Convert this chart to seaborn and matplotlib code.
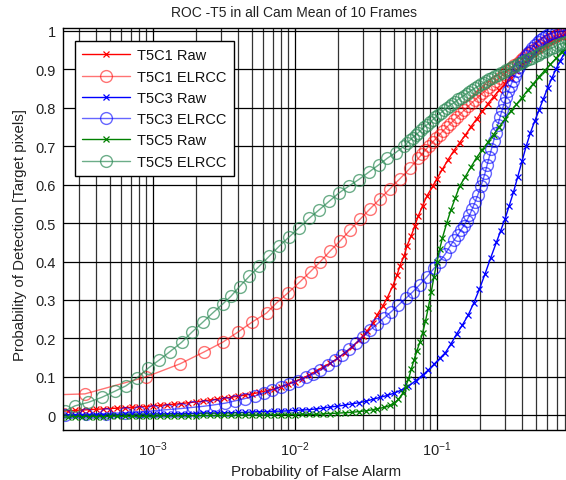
import numpy as np
import matplotlib
matplotlib.use("Agg")
import matplotlib.pyplot as plt
import seaborn as sns
from matplotlib.ticker import LogLocator, FixedLocator, FuncFormatter, NullFormatter

sns.set_theme(style="white")
plt.rcParams["font.family"] = ["Liberation Sans", "DejaVu Sans"]
plt.rcParams["mathtext.fontset"] = "custom"
plt.rcParams["mathtext.rm"] = "Liberation Sans"
plt.rcParams["mathtext.it"] = "Liberation Sans"

TITLE = "ROC -T5 in all Cam Mean of 10 Frames"
XLABEL = "Probability of False Alarm"
YLABEL = "Probability of Detection [Target pixels]"
LABELS = ["T5C1 Raw", "T5C1 ELRCC", "T5C3 Raw", "T5C3 ELRCC", "T5C5 Raw", "T5C5 ELRCC"]
YTICKS = [0, 0.1, 0.2, 0.3, 0.4, 0.5, 0.6, 0.7, 0.8, 0.9, 1]
YTICK_LABELS = ["0", "0.1", "0.2", "0.3", "0.4", "0.5", "0.6", "0.7", "0.8", "0.9", "1"]

# values: log10(P_FA) and P_D
t5c1_raw_logpfa = [-3.70, -3.65, -3.60, -3.55, -3.50, -3.45, -3.40, -3.35, -3.30, -3.25, -3.20, -3.15,
                   -3.10, -3.05, -3.00, -2.95, -2.90, -2.85, -2.80, -2.75, -2.70, -2.65, -2.60, -2.55,
                   -2.50, -2.45, -2.40, -2.35, -2.30, -2.25, -2.20, -2.15, -2.10, -2.05, -2.00, -1.95,
                   -1.90, -1.85, -1.80, -1.75, -1.70, -1.65, -1.60, -1.55, -1.52, -1.49, -1.45, -1.42,
                   -1.38, -1.35, -1.31, -1.28, -1.26, -1.23, -1.21, -1.18, -1.155, -1.13, -1.10, -1.07,
                   -1.03, -1.00, -0.96, -0.92, -0.88, -0.84, -0.80, -0.76, -0.72, -0.68, -0.64, -0.60,
                   -0.56, -0.52, -0.48, -0.44, -0.40, -0.36, -0.32, -0.28, -0.24, -0.20, -0.16, -0.12, -0.08]
t5c1_raw_pd = [0.010, 0.011, 0.012, 0.013, 0.014, 0.015, 0.016, 0.017, 0.018, 0.019, 0.020, 0.021,
               0.022, 0.023, 0.025, 0.026, 0.028, 0.029, 0.031, 0.033, 0.035, 0.037, 0.040, 0.042,
               0.045, 0.047, 0.050, 0.053, 0.056, 0.060, 0.064, 0.069, 0.074, 0.081, 0.088, 0.096,
               0.105, 0.115, 0.126, 0.136, 0.148, 0.162, 0.177, 0.195, 0.207, 0.220, 0.240, 0.262,
               0.285, 0.305, 0.337, 0.365, 0.389, 0.415, 0.441, 0.467, 0.493, 0.519, 0.545, 0.570,
               0.595, 0.615, 0.640, 0.665, 0.688, 0.708, 0.728, 0.750, 0.770, 0.790, 0.810, 0.828,
               0.846, 0.862, 0.878, 0.895, 0.910, 0.925, 0.938, 0.950, 0.962, 0.972, 0.980, 0.987, 0.993]

t5c1_elrcc_logpfa = [-4.00, -3.48, -3.05, -2.81, -2.64, -2.51, -2.40, -2.30, -2.20, -2.13, -2.05, -1.965,
                     -1.89, -1.82, -1.75, -1.68, -1.61, -1.54, -1.47, -1.40, -1.33, -1.26, -1.19,
                     -1.13, -1.105, -1.08, -1.055, -1.03, -1.005, -0.98, -0.955, -0.93, -0.905, -0.88, -0.855,
                     -0.83, -0.805, -0.78, -0.755, -0.73, -0.705, -0.68, -0.655, -0.63, -0.605, -0.58, -0.555,
                     -0.53, -0.505, -0.48, -0.455, -0.43, -0.41, -0.39, -0.37, -0.35, -0.33, -0.31, -0.29,
                     -0.27, -0.25, -0.23, -0.21, -0.19, -0.17, -0.15, -0.13, -0.11, -0.09, -0.07]
t5c1_elrcc_pd = [0.050, 0.056, 0.100, 0.134, 0.165, 0.190, 0.217, 0.243, 0.266, 0.292, 0.318, 0.347,
                 0.374, 0.400, 0.428, 0.454, 0.482, 0.510, 0.537, 0.563, 0.589, 0.615, 0.642,
                 0.668, 0.679, 0.690, 0.700, 0.710, 0.720, 0.730, 0.740, 0.749, 0.758, 0.767, 0.776,
                 0.785, 0.794, 0.803, 0.812, 0.820, 0.829, 0.837, 0.845, 0.853, 0.862, 0.870, 0.878,
                 0.886, 0.894, 0.902, 0.910, 0.917, 0.924, 0.930, 0.936, 0.942, 0.948, 0.953, 0.958,
                 0.963, 0.968, 0.972, 0.977, 0.981, 0.985, 0.988, 0.991, 0.994, 0.996, 0.998]

t5c3_raw_logpfa = [-3.70, -3.65, -3.60, -3.55, -3.50, -3.45, -3.40, -3.35, -3.30, -3.25, -3.20, -3.15,
                   -3.10, -3.05, -3.00, -2.95, -2.90, -2.85, -2.80, -2.75, -2.70, -2.65, -2.60, -2.55,
                   -2.50, -2.45, -2.40, -2.35, -2.30, -2.25, -2.20, -2.15, -2.10, -2.05, -2.00, -1.95,
                   -1.90, -1.85, -1.80, -1.75, -1.70, -1.65, -1.60, -1.55, -1.50, -1.45, -1.40, -1.35,
                   -1.30, -1.25, -1.20, -1.15, -1.10, -1.06, -1.02, -0.98, -0.94, -0.90, -0.86, -0.82,
                   -0.78, -0.74, -0.70, -0.66, -0.62, -0.58, -0.55, -0.52, -0.49, -0.46, -0.43, -0.40,
                   -0.37, -0.34, -0.31, -0.28, -0.25, -0.22, -0.19, -0.16, -0.13, -0.10, -0.07]
t5c3_raw_pd = [0.000, 0.000, 0.001, 0.001, 0.001, 0.001, 0.002, 0.002, 0.002, 0.002, 0.003, 0.003,
               0.003, 0.003, 0.004, 0.004, 0.004, 0.005, 0.005, 0.005, 0.005, 0.006, 0.006, 0.006,
               0.007, 0.007, 0.008, 0.008, 0.009, 0.010, 0.010, 0.011, 0.011, 0.012, 0.013, 0.014,
               0.015, 0.017, 0.019, 0.022, 0.024, 0.027, 0.030, 0.033, 0.037, 0.042, 0.047, 0.052,
               0.058, 0.066, 0.076, 0.090, 0.105, 0.118, 0.133, 0.148, 0.163, 0.186, 0.212, 0.235,
               0.260, 0.292, 0.328, 0.368, 0.410, 0.450, 0.480, 0.510, 0.545, 0.580, 0.620, 0.660,
               0.700, 0.735, 0.765, 0.793, 0.822, 0.850, 0.876, 0.900, 0.922, 0.942, 0.958]

t5c3_elrcc_logpfa = [-3.62, -3.47, -3.33, -3.20, -3.10, -3.00, -2.90, -2.80, -2.72, -2.64, -2.56, -2.49,
                     -2.42, -2.35, -2.28, -2.22, -2.16, -2.10, -2.04, -1.98, -1.92, -1.87, -1.82, -1.77,
                     -1.72, -1.67, -1.62, -1.57, -1.52, -1.47, -1.42, -1.37, -1.32, -1.27, -1.22, -1.17,
                     -1.12, -1.07, -1.02, -0.98, -0.94, -0.91, -0.88,
                     -0.85, -0.83, -0.81, -0.79, -0.77, -0.75, -0.73, -0.71, -0.69, -0.675, -0.66, -0.645,
                     -0.63, -0.615, -0.60, -0.585, -0.57, -0.555, -0.54, -0.525, -0.51, -0.495, -0.48, -0.465,
                     -0.45, -0.435, -0.42, -0.405, -0.39, -0.375, -0.36, -0.345, -0.33, -0.31, -0.29, -0.27,
                     -0.25, -0.23, -0.21, -0.19, -0.16, -0.13, -0.10, -0.07]
t5c3_elrcc_pd = [0.002, 0.003, 0.005, 0.007, 0.009, 0.012, 0.015, 0.018, 0.021, 0.024, 0.028, 0.032,
                 0.038, 0.044, 0.051, 0.058, 0.066, 0.074, 0.082, 0.090, 0.099, 0.108, 0.118, 0.130,
                 0.143, 0.157, 0.172, 0.188, 0.205, 0.222, 0.238, 0.254, 0.270, 0.287, 0.304, 0.321,
                 0.340, 0.360, 0.382, 0.400, 0.420, 0.438, 0.455,
                 0.470, 0.482, 0.493, 0.505, 0.520, 0.537, 0.555, 0.574, 0.595, 0.612, 0.630, 0.652,
                 0.672, 0.692, 0.713, 0.735, 0.755, 0.775, 0.793, 0.812, 0.828, 0.843, 0.857, 0.870,
                 0.882, 0.894, 0.905, 0.915, 0.924, 0.933, 0.941, 0.948, 0.955, 0.963, 0.970, 0.976,
                 0.982, 0.987, 0.990, 0.993, 0.996, 0.998, 1.000, 1.000]

t5c5_raw_logpfa = [-3.70, -3.65, -3.60, -3.55, -3.50, -3.45, -3.40, -3.35, -3.30, -3.25, -3.20, -3.15,
                   -3.10, -3.05, -3.00, -2.95, -2.90, -2.85, -2.80, -2.75, -2.70, -2.65, -2.60, -2.55,
                   -2.50, -2.45, -2.40, -2.35, -2.30, -2.25, -2.20, -2.15, -2.10, -2.05, -2.00, -1.95,
                   -1.90, -1.85, -1.80, -1.75, -1.70, -1.65, -1.60, -1.55, -1.50, -1.45, -1.42, -1.37,
                   -1.33, -1.30, -1.27, -1.24, -1.22, -1.20, -1.18, -1.16, -1.14, -1.12, -1.10, -1.08,
                   -1.06, -1.04, -1.02, -1.00, -0.98, -0.96, -0.93, -0.90, -0.87, -0.84, -0.80, -0.76,
                   -0.72, -0.68, -0.64, -0.60, -0.56, -0.52, -0.48, -0.44, -0.40, -0.36, -0.32, -0.28,
                   -0.24, -0.20, -0.16, -0.12, -0.08]
t5c5_raw_pd = [-0.004, -0.004, -0.004, -0.003, -0.003, -0.003, -0.003, -0.003, -0.002, -0.002, -0.002, -0.002,
               -0.002, -0.002, -0.002, -0.001, -0.001, -0.001, -0.001, -0.001, -0.001, 0.000, 0.000, 0.000,
               0.000, 0.000, 0.001, 0.001, 0.001, 0.001, 0.001, 0.002, 0.002, 0.002, 0.002, 0.003,
               0.003, 0.003, 0.004, 0.005, 0.006, 0.007, 0.008, 0.010, 0.012, 0.015, 0.017, 0.021,
               0.026, 0.032, 0.042, 0.058, 0.075, 0.094, 0.120, 0.145, 0.168, 0.190, 0.215, 0.245,
               0.280, 0.320, 0.360, 0.398, 0.432, 0.462, 0.500, 0.535, 0.565, 0.595, 0.620, 0.645,
               0.670, 0.690, 0.710, 0.730, 0.750, 0.770, 0.790, 0.808, 0.826, 0.845, 0.862, 0.880,
               0.896, 0.912, 0.928, 0.945, 0.960]

t5c5_elrcc_logpfa = [-3.62, -3.549, -3.456, -3.361, -3.268, -3.19, -3.115, -3.033, -2.956, -2.88, -2.798, -2.727,
                     -2.65, -2.58, -2.51, -2.45, -2.39, -2.32, -2.25, -2.18, -2.11, -2.04, -1.97, -1.90,
                     -1.83, -1.76, -1.69, -1.62, -1.55, -1.48, -1.41, -1.35, -1.29,
                     -1.23, -1.21, -1.19, -1.17, -1.15, -1.13, -1.11, -1.09, -1.07, -1.05, -1.03, -1.01,
                     -0.99, -0.97, -0.95, -0.93, -0.91, -0.89, -0.87, -0.85, -0.83, -0.81, -0.79, -0.77,
                     -0.75, -0.73, -0.71, -0.69, -0.67, -0.65, -0.63, -0.61, -0.59, -0.57, -0.55, -0.53,
                     -0.51, -0.49, -0.47, -0.45, -0.43, -0.41, -0.39, -0.37, -0.35, -0.33, -0.31, -0.29,
                     -0.27, -0.25, -0.23, -0.21, -0.19, -0.17, -0.15, -0.13, -0.11, -0.09, -0.07]
t5c5_elrcc_pd = [0.012, 0.025, 0.034, 0.047, 0.063, 0.077, 0.097, 0.123, 0.144, 0.166, 0.190, 0.216,
                 0.242, 0.266, 0.289, 0.310, 0.335, 0.362, 0.388, 0.414, 0.440, 0.464, 0.488, 0.512,
                 0.534, 0.556, 0.578, 0.596, 0.613, 0.632, 0.651, 0.668, 0.683,
                 0.700, 0.708, 0.715, 0.722, 0.728, 0.735, 0.742, 0.749, 0.755, 0.762, 0.768, 0.775,
                 0.781, 0.787, 0.793, 0.799, 0.805, 0.810, 0.815, 0.821, 0.826, 0.831, 0.836, 0.841,
                 0.846, 0.851, 0.855, 0.860, 0.864, 0.869, 0.873, 0.877, 0.881, 0.885, 0.889, 0.893,
                 0.897, 0.901, 0.905, 0.909, 0.912, 0.916, 0.919, 0.923, 0.926, 0.930, 0.934, 0.937,
                 0.941, 0.944, 0.948, 0.951, 0.955, 0.958, 0.962, 0.965, 0.968, 0.971, 0.974]

RED = "#ff0000"
BLUE = "#0000ff"
GREEN = "#008000"
SEAGREEN = "#2e8b57"

series = [
    (LABELS[0], t5c1_raw_logpfa, t5c1_raw_pd, RED, "x", 1.0),
    (LABELS[1], t5c1_elrcc_logpfa, t5c1_elrcc_pd, RED, "o", 0.55),
    (LABELS[2], t5c3_raw_logpfa, t5c3_raw_pd, BLUE, "x", 1.0),
    (LABELS[3], t5c3_elrcc_logpfa, t5c3_elrcc_pd, BLUE, "o", 0.6),
    (LABELS[4], t5c5_raw_logpfa, t5c5_raw_pd, GREEN, "x", 1.0),
    (LABELS[5], t5c5_elrcc_logpfa, t5c5_elrcc_pd, SEAGREEN, "o", 0.7),
]

fig = plt.figure(figsize=(5.66, 4.81), dpi=100)
ax = fig.add_axes([0.1108, 0.1046, 0.9117, 0.8361])
ax.set_xscale("log")

for label, lx, y, color, marker, alpha in series:
    x = 10.0 ** np.asarray(lx)
    if marker == "o":
        sns.lineplot(x=x, y=y, ax=ax, estimator=None, sort=False, color=color, lw=1.0,
                     marker="o", markersize=8.5, mfc="none", mec=color, mew=1.0,
                     alpha=alpha, label=label)
    else:
        sns.lineplot(x=x, y=y, ax=ax, estimator=None, sort=False, color=color, lw=1.0,
                     marker="x", markersize=4.8, mec=color, mew=0.9,
                     alpha=alpha, label=label)

ax.set_xlim(10 ** -3.636, 1.0)
ax.set_ylim(-0.037, 1.008)


def decade_label(v, _pos):
    if v >= 0.999:
        return ""
    return r"$10^{%d}$" % int(round(np.log10(v)))


ax.xaxis.set_major_locator(LogLocator(base=10, numticks=20))
ax.xaxis.set_major_formatter(FuncFormatter(decade_label))
ax.xaxis.set_minor_locator(LogLocator(base=10, subs=np.arange(2, 10), numticks=50))
ax.xaxis.set_minor_formatter(NullFormatter())
ax.yaxis.set_major_locator(FixedLocator(YTICKS))
ax.set_yticklabels(YTICK_LABELS)

ax.grid(which="major", axis="both", color="black", lw=0.9, ls="-")
ax.grid(which="minor", axis="x", color="0.2", lw=0.9, ls="-")
ax.set_axisbelow(True)
for s in ax.spines.values():
    s.set_color("black")
    s.set_linewidth(1.0)

ax.tick_params(axis="both", which="major", direction="in", length=3, width=0.8,
               top=True, right=True, labelsize=10.5, colors="black", pad=5)
ax.tick_params(axis="x", which="minor", direction="in", length=2, width=0.6, top=True)
ax.tick_params(axis="x", which="major", pad=7)
for t in ax.get_xticklabels() + ax.get_yticklabels():
    t.set_color("#222222")

ax.set_xlabel("")
ax.set_ylabel("")

leg = ax.legend(loc="upper left", bbox_to_anchor=(0.0238, 0.9664), borderaxespad=0,
                fontsize=10.5, frameon=True, fancybox=False, framealpha=1, edgecolor="black",
                handlelength=3.3, handletextpad=0.45, borderpad=0.5, labelspacing=0.5,
                numpoints=1)
leg.get_frame().set_linewidth(1.0)
for txt in leg.get_texts():
    txt.set_color("#111111")

fig.text(294 / 566, 1 - 13 / 481, TITLE, ha="center", va="center", fontsize=10, color="#222222")
fig.text(316 / 566, 1 - 472 / 481, XLABEL, ha="center", va="center", fontsize=10.8, color="#222222")
fig.text(20 / 566, 1 - 235 / 481, YLABEL, ha="center", va="center", rotation=90,
         fontsize=10.8, color="#222222")

fig.savefig("out.png", dpi=100)
